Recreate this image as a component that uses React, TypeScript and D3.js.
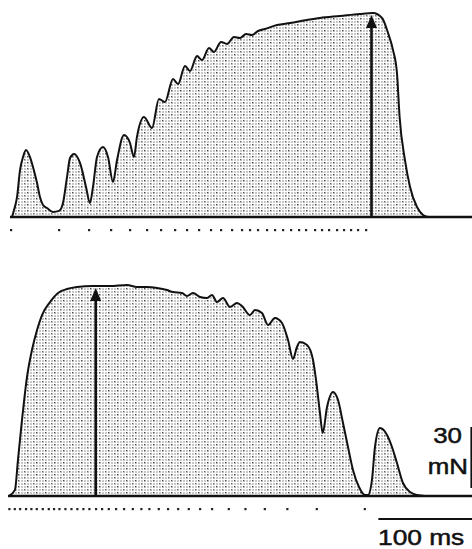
import React from 'react'
import * as d3 from 'd3'

// upper trace: ramp-up train (ms, mN)
const topTime = [4.3, 6.4, 9.6, 12.8, 16.0, 19.1, 23.4, 26.6, 30.9, 34.0, 37.2, 41.5, 47.9, 54.3, 58.5, 62.8, 66.0, 70.2, 76.6, 83.0, 87.2, 90.4, 94.7, 101.1, 106.4, 111.7, 116.0, 123.4, 129.8, 134.0, 137.2, 144.7, 153.2, 160.6, 167.0, 175.5, 180.9, 188.3, 193.6, 201.1, 206.4, 213.8, 219.1, 226.6, 233.0, 240.4, 246.8, 253.2, 259.6, 266.0, 273.4, 286.2, 300.0, 318.1, 331.9, 353.2, 374.5, 388.3, 397.9, 404.3, 409.6, 413.8, 416.6, 422.3, 427.7, 435.1, 441.5, 446.8]
const topForce = [0, 3.4, 9.8, 23.1, 29.5, 33.0, 29.5, 24.6, 16.7, 9.8, 5.9, 4.4, 2.5, 3.0, 6.9, 19.7, 29.0, 31.0, 26.6, 14.8, 6.9, 14.8, 29.5, 34.4, 29.5, 17.2, 28.0, 40.3, 36.4, 29.5, 39.4, 49.2, 43.8, 58.0, 56.6, 67.9, 65.4, 74.3, 71.8, 79.2, 77.2, 83.1, 81.2, 86.1, 85.1, 88.5, 88.0, 90.0, 89.5, 91.5, 92.5, 94.4, 95.4, 96.9, 97.9, 98.9, 99.9, 100.3, 97.9, 90.5, 82.1, 70.8, 49.2, 28.0, 14.8, 4.9, 1.0, 0]
const topStim = [3.2, 54.3, 86.2, 109.6, 129.8, 147.9, 162.8, 177.7, 190.4, 203.2, 215.9, 226.6, 238.3, 248.9, 257.4, 265.9, 275.5, 284.0, 292.6, 301.1, 309.6, 317.0, 326.6, 334.0, 341.5, 350.0, 357.4, 364.9, 372.3, 380.9]
const topArrow = { t: 386.7, f: 99.4 }

// lower trace: ramp-down train
const botTime = [1.1, 7.4, 10.6, 14.9, 20.2, 25.5, 30.9, 36.2, 44.7, 53.2, 62.8, 73.4, 90.4, 108.5, 126.6, 137.2, 147.9, 158.5, 169.1, 175.5, 185.1, 190.4, 196.8, 204.3, 211.7, 217.0, 222.3, 228.7, 236.2, 243.6, 248.9, 257.4, 262.8, 270.2, 276.6, 284.0, 291.5, 297.9, 303.2, 307.4, 310.6, 318.1, 324.5, 327.7, 331.9, 334.8, 339.4, 345.7, 351.1, 356.4, 361.7, 367.0, 373.4, 379.8, 383.0, 387.2, 390.4, 395.7, 403.2, 408.5, 413.8, 420.2, 427.7, 435.1, 443.6]
const botForce = [0, 3.0, 17.7, 37.4, 58.5, 71.8, 81.7, 89.0, 95.4, 99.9, 101.8, 102.8, 103.3, 103.3, 103.8, 102.8, 102.8, 102.3, 101.3, 100.3, 99.9, 98.4, 99.9, 97.9, 97.4, 98.9, 95.4, 97.4, 93.0, 94.9, 93.5, 89.0, 91.5, 90.0, 84.1, 87.6, 85.1, 76.7, 67.4, 73.3, 75.7, 74.3, 66.9, 57.1, 40.8, 31.0, 43.8, 51.2, 47.2, 35.9, 24.1, 12.8, 4.4, 0.5, 0.5, 7.9, 24.1, 33.4, 30.0, 24.1, 16.2, 6.4, 2.0, 0.5, 0]
const botStim = [1.4, 7.1, 12.8, 19.1, 24.8, 30.5, 36.9, 43.3, 48.9, 54.6, 61.0, 67.4, 73.7, 80.1, 86.5, 93.6, 100.0, 107.1, 114.9, 123.4, 132.7, 141.8, 150.3, 160.3, 170.2, 180.9, 192.2, 204.3, 217.0, 234.8, 252.5, 273.1, 297.1, 328.4, 379.5]
const botArrow = { t: 93.3, f: 102.3 }

const forceBar = [3.9, 33.9] // 30 mN
const timeBar = [394, 494] // 100 ms

const W = 472
const H = 549

const x = d3.scaleLinear().domain([0, 494]).range([8, 8 + 494 * 0.94])
const yTop = d3.scaleLinear().domain([0, 100]).range([217, 217 - 203.3])
const yBot = d3.scaleLinear().domain([0, 100]).range([496, 496 - 203.3])

function Trace({ times, forces, stim, arrow, y, start }: any) {
  const pts = times.map((t: number, i: number) => [t, forces[i]])
  const area = d3.area<number[]>()
    .x(d => x(d[0]))
    .y0(y(0))
    .y1(d => y(d[1]))
    .curve(d3.curveMonotoneX)
  const line = d3.line<number[]>()
    .x(d => x(d[0]))
    .y(d => y(d[1]))
    .curve(d3.curveMonotoneX)
  const ax = x(arrow.t)
  const tip = y(arrow.f)
  return (
    <g>
      <path d={area(pts)!} fill="url(#grid)" />
      <path d={area(pts)!} fill="url(#specks)" />
      <path d={line(pts)!} fill="none" stroke="#111" strokeWidth={2} strokeLinejoin="round" />
      <line x1={x(start)} x2={W} y1={y(0)} y2={y(0)} stroke="#111" strokeWidth={2.4} />
      <line x1={ax} x2={ax} y1={y(0)} y2={tip + 8} stroke="#111" strokeWidth={2.6} />
      <path d={`M${ax},${tip} L${ax - 5.5},${tip + 13} L${ax + 5.5},${tip + 13} Z`} fill="#111" />
      {stim.map((t: number, i: number) => (
        <rect key={i} x={x(t) - 1} y={y(0) + 12} width={2.2} height={2.2} fill="#222" />
      ))}
    </g>
  )
}

export default function App() {
  const font = 'Liberation Sans, Arial, sans-serif'
  return (
    <>
      <style>{'body{margin:0}'}</style>
      <svg width={W} height={H} style={{ display: 'block', background: '#fff' }}>
        <defs>
          <pattern id="grid" width={3} height={3} patternUnits="userSpaceOnUse">
            <rect width={3} height={3} fill="#fff" />
            <rect width={2} height={2} fill="#c8c8c8" />
          </pattern>
          <pattern id="specks" width={9} height={6} patternUnits="userSpaceOnUse">
            <rect x={0} y={0} width={1.2} height={1.2} fill="#444" />
            <rect x={6} y={3} width={1.2} height={1.2} fill="#666" />
          </pattern>
        </defs>
        <Trace times={topTime} forces={topForce} stim={topStim} arrow={topArrow} y={yTop} start={2.1} />
        <Trace times={botTime} forces={botForce} stim={botStim} arrow={botArrow} y={yBot} start={0} />
        <line x1={471.2} x2={471.2} y1={yBot(forceBar[0])} y2={yBot(forceBar[1])} stroke="#111" strokeWidth={1.6} />
        <g fontFamily={font} fontSize={22.5} fill="#111" stroke="#111" strokeWidth={0.5}>
          <text transform="translate(462,443) scale(1.15,1)" textAnchor="end">30</text>
          <text transform="translate(468,474) scale(1.15,1)" textAnchor="end">mN</text>
          <text transform="translate(378,545) scale(1.17,1)">100 ms</text>
        </g>
        <line x1={x(timeBar[0])} x2={x(timeBar[1])} y1={519} y2={519} stroke="#111" strokeWidth={2} />
      </svg>
    </>
  )
}
